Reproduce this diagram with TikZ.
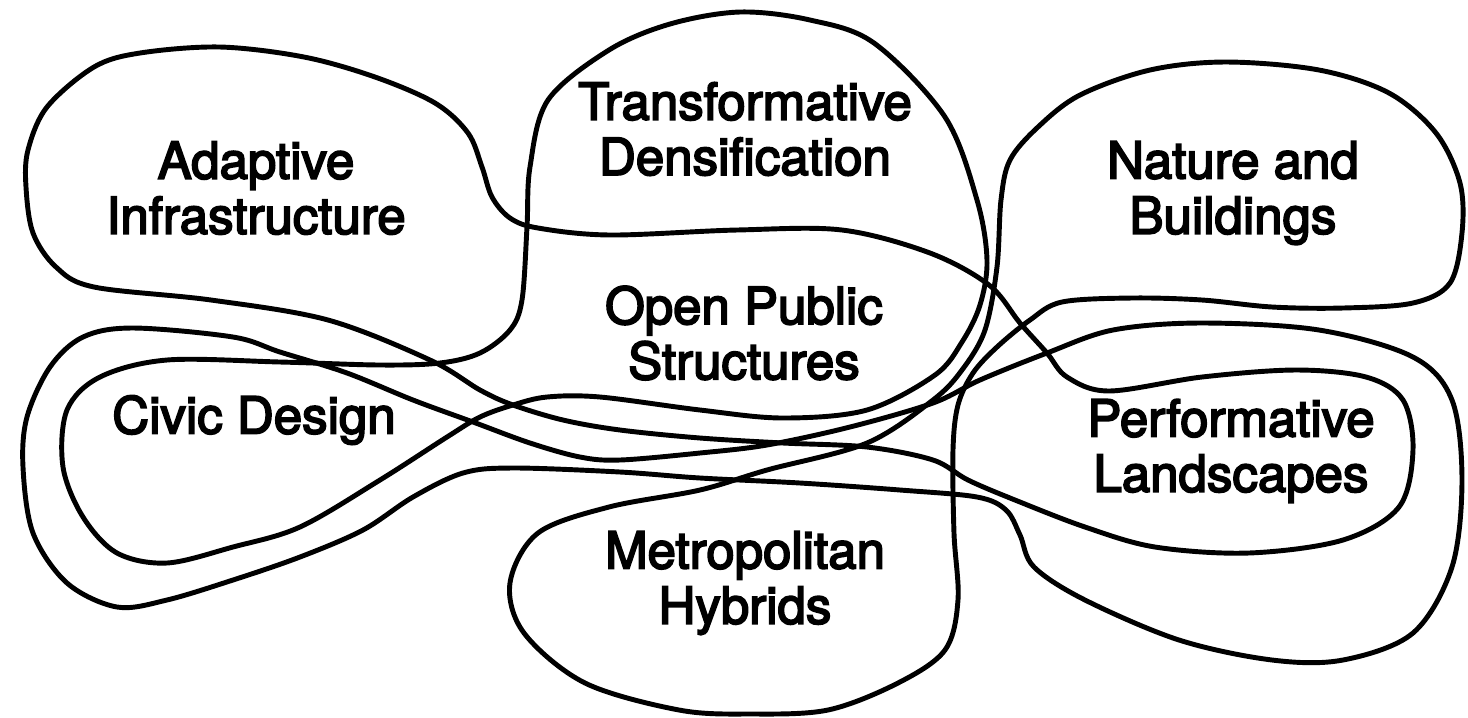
\documentclass[tikz,border=0pt]{standalone}
\usepackage{fontspec}
\setmainfont{TeX Gyre Heros}
\newfontfamily\lblfont{TeX Gyre Heros}[FakeBold=3.5]
\usepackage{tikz}

\begin{document}
\begin{tikzpicture}[x=0.01cm,y=-0.01cm,
  blob/.style={line width=1.4pt,line join=round},
  lbl/.style={align=center,inner sep=0pt,font=\lblfont\fontsize{14.5pt}{15.7pt}\selectfont},
]
\useasboundingbox (0,0) rectangle (1468,717);
% adaptive infrastructure + performative landscapes (inner loop)
\draw[blob] plot[smooth cycle,tension=0.55] coordinates {
  (26,187) (33,233) (56,267) (94,287) (211,300) (328,320) (430,360) (480,390)
  (513,405) (563,420) (620,430) (700,438) (783,443) (867,447) (933,460) (968,480)
  (1015,500) (1085,527) (1155,547) (1249,553) (1343,540) (1399,507) (1413,450)
  (1403,400) (1366,377) (1296,370) (1202,377) (1109,391) (1067,377) (1047,353)
  (1020,323) (989,285) (930,253) (842,230) (737,230) (610,235) (538,228) (510,218)
  (492,197) (482,167) (468,133) (435,103) (375,77) (304,57) (220,47) (140,53)
  (94,67) (47,107) (28,150)};
% transformative densification + civic design (inner loop)
\draw[blob] plot[smooth cycle,tension=0.55] coordinates {
  (740,12) (810,20) (874,43) (945,117) (977,200) (987,260) (980,305) (962,342)
  (935,375) (867,410) (783,418) (700,410) (600,397) (547,397) (513,405) (480,417)
  (447,437) (380,480) (300,527) (233,547) (167,563) (117,553) (83,517) (63,467)
  (67,410) (100,377) (167,360) (280,362) (380,365) (440,363) (480,353) (510,330)
  (522,300) (527,227) (530,167) (548,100) (609,50) (670,24)};
% civic design (outer loop) + performative landscapes (outer loop)
\draw[blob] plot[smooth cycle,tension=0.55] coordinates {
  (280,352) (233,337) (133,328) (83,337) (50,367) (27,417) (23,467) (33,533)
  (67,583) (117,607) (167,600) (233,580) (300,557) (363,530) (413,497) (463,473)
  (513,468) (620,472) (700,478) (800,483) (900,490) (977,497) (1006,510) (1020,535)
  (1034,567) (1085,600) (1179,640) (1272,660) (1343,660) (1413,633) (1452,567)
  (1462,480) (1452,400) (1413,357) (1319,330) (1202,323) (1113,330) (1047,353)
  (980,380) (933,403) (850,427) (767,445) (700,453) (620,460) (580,457) (530,443)
  (473,422) (413,400) (347,373)};
% nature and buildings + metropolitan hybrids
\draw[blob] plot[smooth cycle,tension=0.55] coordinates {
  (1001,200) (1010,160) (1038,127) (1080,95) (1150,70) (1226,62) (1319,70)
  (1389,93) (1436,133) (1460,183) (1462,233) (1450,283) (1413,303) (1343,308)
  (1272,307) (1202,300) (1132,298) (1062,302) (1030,320) (997,347) (973,373)
  (958,405) (953,450) (954,533) (958,600) (945,650) (898,683) (828,710) (750,714)
  (679,710) (585,683) (524,633) (510,583) (538,533) (609,507) (700,490) (767,470)
  (867,443) (933,400) (962,370) (985,330) (997,267)};
% labels
\node[lbl] (adapt) at (256,188) {Adaptive\\Infrastructure};
\node[lbl] (densif) at (745,129) {Transformative\\Densification};
\node[lbl] (nature) at (1233,193) {Nature and\\Buildings};
\node[lbl] (public) at (744,333) {Open Public\\Structures};
\node[lbl] (civic) at (254,420) {Civic Design};
\node[lbl] (perform) at (1231,451) {Performative\\Landscapes};
\node[lbl] (metro) at (745,583) {Metropolitan\\Hybrids};
\end{tikzpicture}
\end{document}
